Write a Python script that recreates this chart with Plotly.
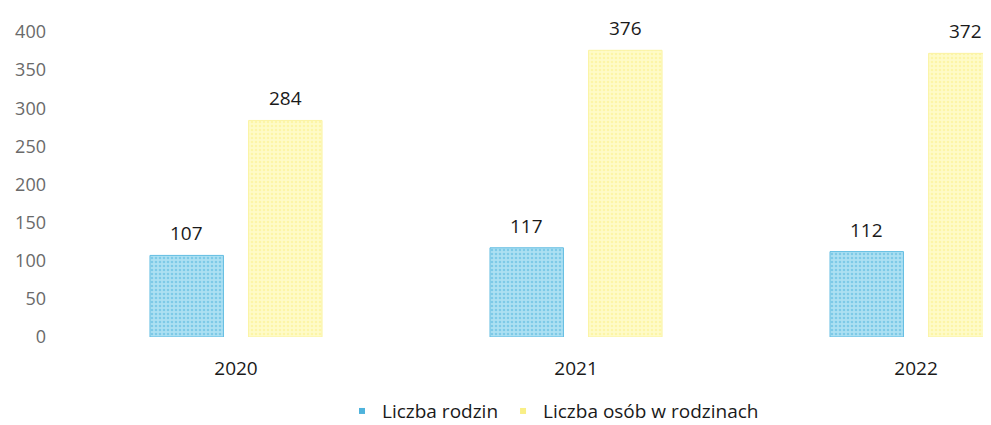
import plotly.graph_objects as go

years = ["2020", "2021", "2022"]
rodziny = [107, 117, 112]
osoby = [284, 376, 372]
y_ticks = [0, 50, 100, 150, 200, 250, 300, 350, 400]
series_names = ["Liczba rodzin", "Liczba osób w rodzinach"]

BLUE_BG, BLUE_FG, BLUE_EDGE = "#ade0f2", "#4fb3dc", "#62bde2"
YEL_BG, YEL_FG, YEL_EDGE = "#fefbc8", "#f9ef86", "#fbf3a2"

W, H = 991, 425
ML, MR, MT, MB = 58, 0, 24, 96
BARGAP, GROUPGAP = 0.42, 0.255
X_RANGE = [-0.5, 2.244]

fig = go.Figure()
for name, vals, bg, fg, edge in [(series_names[0], rodziny, BLUE_BG, BLUE_FG, BLUE_EDGE),
                                 (series_names[1], osoby, YEL_BG, YEL_FG, YEL_EDGE)]:
    fig.add_trace(go.Bar(
        x=years, y=vals, name=name, showlegend=False,
        marker=dict(color=bg, line=dict(color=edge, width=1),
                    pattern=dict(shape=".", fgcolor=fg, bgcolor=bg,
                                 size=4, solidity=0.35, fillmode="overlay")),
    ))

# value labels above bars (offset within each group derived from gap settings)
cat_px = (W - ML - MR) / (X_RANGE[1] - X_RANGE[0])
slot_px = cat_px * (1 - BARGAP) / 2
for i, vals in enumerate([rodziny, osoby]):
    shift = (i - 0.5) * slot_px
    for idx, v in enumerate(vals):
        fig.add_annotation(x=idx, y=v, xref="x", yref="y", text=str(v), showarrow=False,
                           xshift=shift, yshift=22, yanchor="middle",
                           font=dict(size=19, color="#1a1a1a"))

# legend entries with small square markers
for name, col in zip(series_names, [BLUE_FG, YEL_FG]):
    fig.add_trace(go.Scatter(x=[None], y=[None], mode="markers", name=name,
                             marker=dict(symbol="square", size=6, color=col)))

fig.update_layout(
    width=W, height=H,
    margin=dict(l=ML, r=MR, t=MT, b=MB),
    paper_bgcolor="white", plot_bgcolor="white",
    barmode="group", bargap=BARGAP, bargroupgap=GROUPGAP,
    font=dict(family="Open Sans, Liberation Sans, sans-serif", color="#1a1a1a"),
    showlegend=True,
    legend=dict(orientation="h", x=0.522, xanchor="center", y=-0.243, yanchor="middle",
                font=dict(size=19, color="#1a1a1a"), itemwidth=30, tracegroupgap=0),
)
fig.update_xaxes(type="category", range=X_RANGE, showgrid=False, showline=False,
                 tickfont=dict(size=19, color="#1a1a1a"), ticks="", ticklabelstandoff=18)
fig.update_yaxes(range=[0, 400], tickvals=y_ticks, showgrid=False, showline=False,
                 zeroline=False, tickfont=dict(size=18, color="#6a6a6a"),
                 ticklabelstandoff=19)

fig.write_html("out.html")
